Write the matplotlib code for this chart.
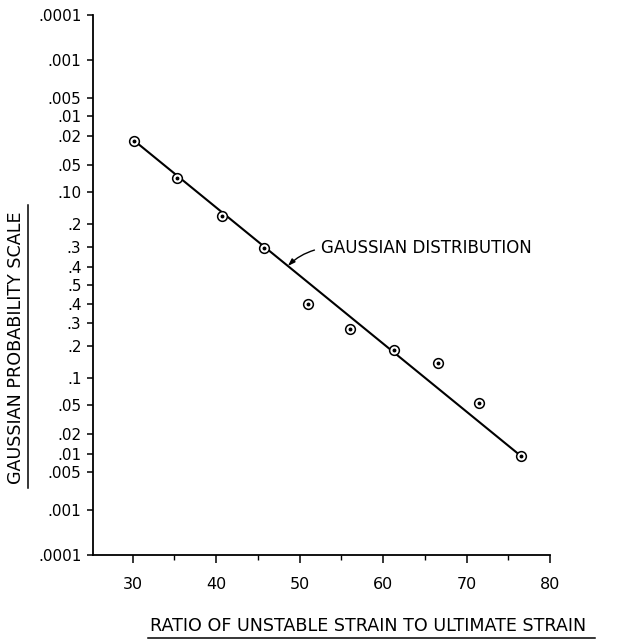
import math
import numpy as np
import matplotlib
matplotlib.use('Agg')
import matplotlib.pyplot as plt
from matplotlib.lines import Line2D
from matplotlib.ticker import MultipleLocator


# test points: strain ratio vs cumulative probability
ratio = [30.2, 35.3, 40.7, 45.8, 51.0, 56.0, 61.3, 66.6, 71.5, 76.5]
prob = [0.9766, 0.9303, 0.828, 0.696, 0.398, 0.272, 0.185, 0.143, 0.0525, 0.0094]

# fitted gaussian line (end points)
fit_ratio = [30.1, 76.5]
fit_prob = [0.977, 0.0094]

# probability scale ticks, tails counted from each end
ytick_labels = ['.0001', '.001', '.005', '.01', '.02', '.05', '.10', '.2', '.3', '.4', '.5',
                '.4', '.3', '.2', '.1', '.05', '.02', '.01', '.005', '.001', '.0001']
ytick_probs = [0.9999, 0.999, 0.995, 0.99, 0.98, 0.95, 0.90, 0.8, 0.7, 0.6, 0.5,
               0.4, 0.3, 0.2, 0.1, 0.05, 0.02, 0.01, 0.005, 0.001, 0.0001]
xticks = [30, 40, 50, 60, 70, 80]


def norm_ppf(p):
    # inverse of the standard normal cdf by bisection
    lo, hi = -10.0, 10.0
    for _ in range(80):
        mid = (lo + hi) / 2
        if 0.5 * (1 + math.erf(mid / math.sqrt(2))) < p:
            lo = mid
        else:
            hi = mid
    return (lo + hi) / 2


z = np.array([norm_ppf(p) for p in prob])
fit_z = np.array([norm_ppf(p) for p in fit_prob])
ytick_z = [norm_ppf(p) for p in ytick_probs]

plt.rcParams['font.family'] = 'DejaVu Sans'

fig = plt.figure(figsize=(6.18, 6.39), dpi=100)
ax = fig.add_axes([0.1497, 0.1307, 0.7403, 0.8463])

ax.plot(fit_ratio, fit_z, color='black', linewidth=1.5, zorder=2)
ax.plot(ratio, z, linestyle='none', marker='o', markersize=7, markerfacecolor='white',
        markeredgecolor='black', markeredgewidth=1.1, zorder=3)
ax.plot(ratio, z, linestyle='none', marker='o', markersize=1.8, color='black', zorder=4)

# leader from the label to the fitted line
x_arrow = 48.6
z_arrow = np.interp(x_arrow, fit_ratio, fit_z)
ax.annotate('GAUSSIAN DISTRIBUTION', xy=(x_arrow, z_arrow), xytext=(52.6, 0.505),
            ha='left', va='center', fontsize=12,
            arrowprops=dict(arrowstyle='-|>,head_length=0.35,head_width=0.12',
                            color='black', linewidth=1.0, relpos=(0, 0.5),
                            shrinkA=3, shrinkB=0,
                            connectionstyle='arc3,rad=0.15'))

ax.set_xlim(25.2, 80)
ax.set_ylim(ytick_z[-1], ytick_z[0])
ax.set_xticks(xticks)
ax.xaxis.set_minor_locator(MultipleLocator(5))
ax.set_yticks(ytick_z)
ax.set_yticklabels(ytick_labels)

for side in ['top', 'right']:
    ax.spines[side].set_visible(False)
for side in ['left', 'bottom']:
    ax.spines[side].set_linewidth(1.3)

ax.tick_params(axis='y', direction='out', length=4.5, width=1.1, pad=3.5, labelsize=11)
ax.tick_params(axis='x', which='major', direction='out', length=5.5, width=1.1, pad=10,
               labelsize=11.5)
ax.tick_params(axis='x', which='minor', direction='out', length=3.5, width=1.0)

xlab = fig.text(368 / 618, 1 - 626 / 639, 'RATIO OF UNSTABLE STRAIN TO ULTIMATE STRAIN',
                ha='center', va='center', fontsize=12.6)
ylab = fig.text(16.5 / 618, 1 - 348 / 639, 'GAUSSIAN PROBABILITY SCALE',
                ha='center', va='center', rotation=90, fontsize=12.6)

# underline both axis titles
fig.canvas.draw()
renderer = fig.canvas.get_renderer()
inv = fig.transFigure.inverted()
bb = xlab.get_window_extent(renderer).transformed(inv)
fig.add_artist(Line2D([bb.x0 - 0.003, bb.x1 + 0.015], [bb.y0 - 0.005, bb.y0 - 0.005],
                      transform=fig.transFigure, color='black', linewidth=1.1))
bb = ylab.get_window_extent(renderer).transformed(inv)
fig.add_artist(Line2D([bb.x1 + 0.004, bb.x1 + 0.004], [bb.y0 - 0.006, bb.y1 + 0.01],
                      transform=fig.transFigure, color='black', linewidth=1.1))

fig.savefig('out.png', dpi=100)
